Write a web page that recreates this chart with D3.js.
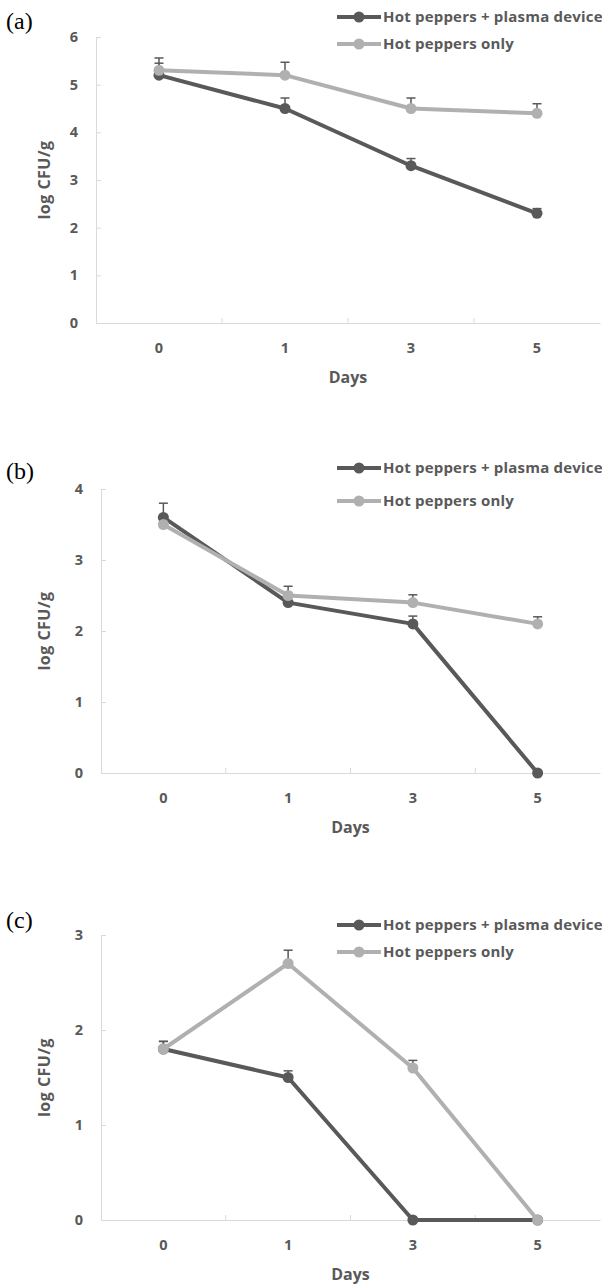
<!DOCTYPE html>
<html>
<head>
<meta charset="utf-8">
<script src="https://cdn.jsdelivr.net/npm/d3@7"></script>
<style>
  body { margin: 0; background: #fff; }
  svg text { font-family: "Open Sans", sans-serif; }
</style>
</head>
<body>
<div id="container"></div>
<script>
const WIDTH = 602;
const HEIGHT = 1287;

// categories (days) and legend labels
var days = ["0", "1", "3", "5"];
var seriesNames = ["Hot peppers + plasma device", "Hot peppers only"];
var panelLabels = ["(a)", "(b)", "(c)"];

// panel (a)
var plasmaA = [5.2, 4.5, 3.3, 2.3];
var plasmaErrA = [0.25, 0.22, 0.15, 0.1];
var onlyA = [5.3, 5.2, 4.5, 4.4];
var onlyErrA = [0.26, 0.27, 0.22, 0.2];
var ticksA = [0, 1, 2, 3, 4, 5, 6];

// panel (b)
var plasmaB = [3.6, 2.4, 2.1, 0];
var plasmaErrB = [0.2, 0.1, 0.11, 0];
var onlyB = [3.5, 2.5, 2.4, 2.1];
var onlyErrB = [0.1, 0.13, 0.11, 0.1];
var ticksB = [0, 1, 2, 3, 4];

// panel (c)
var plasmaC = [1.8, 1.5, 0, 0];
var plasmaErrC = [0.08, 0.07, 0, 0];
var onlyC = [1.8, 2.7, 1.6, 0];
var onlyErrC = [0.08, 0.14, 0.08, 0];
var ticksC = [0, 1, 2, 3];

var DARK = "#595959";
var LIGHT = "#b0b0b0";
var AXIS = "#d9d9d9";
var TEXT = "#595959";

var svg = d3.select("#container").append("svg")
    .attr("width", WIDTH)
    .attr("height", HEIGHT);

var drawPanel = function (p) {
    var g = svg.append("g");

    var x = d3.scaleBand().domain(days).range([p.left, 600]);
    var y = d3.scaleLinear().domain([0, d3.max(p.ticks)]).range([p.bottom, p.top]);
    var cx = function (d, i) { return x(days[i]) + x.bandwidth() / 2; };

    // y axis
    var yAxis = d3.axisLeft(y).tickValues(p.ticks).tickFormat(d3.format("d"))
        .tickSizeInner(-5).tickSizeOuter(0).tickPadding(18);
    var ya = g.append("g").attr("transform", "translate(" + p.left + ",0)").call(yAxis);
    ya.select(".domain").attr("stroke", AXIS);
    ya.selectAll(".tick line").attr("stroke", AXIS);
    ya.selectAll("text").attr("fill", TEXT).style("font-size", "14.5px").style("font-weight", 700);

    // x axis: labels in band centres, ticks at band edges
    var xAxis = d3.axisBottom(x).tickSize(0).tickPadding(20);
    var xa = g.append("g").attr("transform", "translate(0," + p.bottom + ")").call(xAxis);
    xa.select(".domain").attr("stroke", AXIS);
    xa.selectAll("text").attr("fill", TEXT).style("font-size", "14.5px").style("font-weight", 700);
    xa.selectAll(".edge").data(days.slice(1)).enter().append("line")
        .attr("x1", function (d) { return x(d); })
        .attr("x2", function (d) { return x(d); })
        .attr("y1", 0).attr("y2", -5)
        .attr("stroke", AXIS);

    // axis titles
    g.append("text")
        .attr("x", (p.left + 600) / 2).attr("y", p.bottom + 60)
        .attr("text-anchor", "middle").attr("fill", TEXT)
        .style("font-size", "16px").style("font-weight", 700)
        .text("Days");
    g.append("text")
        .attr("transform", "translate(50," + (p.top + p.bottom) / 2 + ") rotate(-90)")
        .attr("text-anchor", "middle").attr("fill", TEXT)
        .style("font-size", "16px").style("font-weight", 700)
        .style("letter-spacing", "0.5px")
        .text("log CFU/g");

    // panel letter
    g.append("text")
        .attr("x", 6).attr("y", p.labelY)
        .style("font-family", "'Liberation Serif', 'Times New Roman', serif")
        .style("font-size", "24px")
        .attr("fill", "#000")
        .text(p.label);

    var line = d3.line().x(cx).y(function (d) { return y(d); });

    p.series.forEach(function (s) {
        g.append("path")
            .datum(s.values)
            .attr("d", line)
            .attr("fill", "none")
            .attr("stroke", s.color)
            .attr("stroke-width", 4)
            .attr("stroke-linejoin", "round");

        // error bars (upper only)
        var eb = g.append("g");
        s.values.forEach(function (v, i) {
            if (!s.err[i]) return;
            var px = cx(v, i);
            eb.append("line")
                .attr("x1", px).attr("x2", px)
                .attr("y1", y(v)).attr("y2", y(v + s.err[i]))
                .attr("stroke", DARK).attr("stroke-width", 1.5);
            eb.append("line")
                .attr("x1", px - 4.5).attr("x2", px + 4.5)
                .attr("y1", y(v + s.err[i])).attr("y2", y(v + s.err[i]))
                .attr("stroke", DARK).attr("stroke-width", 1.5);
        });

        g.append("g").selectAll("circle")
            .data(s.values).enter().append("circle")
            .attr("cx", cx)
            .attr("cy", function (d) { return y(d); })
            .attr("r", 5.5)
            .attr("fill", s.color);
    });

    // legend
    p.series.forEach(function (s, i) {
        var ly = p.legendY[i];
        var lg = g.append("g");
        lg.append("line")
            .attr("x1", 337).attr("x2", 381)
            .attr("y1", ly).attr("y2", ly)
            .attr("stroke", s.color).attr("stroke-width", 4);
        lg.append("circle")
            .attr("cx", 359).attr("cy", ly).attr("r", 5.5)
            .attr("fill", s.color);
        lg.append("text")
            .attr("x", 383).attr("y", ly).attr("dy", "0.36em")
            .attr("fill", TEXT)
            .style("font-size", "15px").style("font-weight", 700)
            .style("letter-spacing", "0.2px")
            .text(seriesNames[i]);
    });
};

var panels = [
    { label: panelLabels[0], labelY: 29, left: 96, top: 37, bottom: 323, ticks: ticksA, legendY: [17, 44],
      series: [{ values: plasmaA, err: plasmaErrA, color: DARK }, { values: onlyA, err: onlyErrA, color: LIGHT }] },
    { label: panelLabels[1], labelY: 479, left: 101, top: 489, bottom: 773, ticks: ticksB, legendY: [468, 501],
      series: [{ values: plasmaB, err: plasmaErrB, color: DARK }, { values: onlyB, err: onlyErrB, color: LIGHT }] },
    { label: panelLabels[2], labelY: 928, left: 101, top: 935, bottom: 1220, ticks: ticksC, legendY: [925, 952],
      series: [{ values: plasmaC, err: plasmaErrC, color: DARK }, { values: onlyC, err: onlyErrC, color: LIGHT }] }
];

panels.forEach(drawPanel);
</script>
</body>
</html>
